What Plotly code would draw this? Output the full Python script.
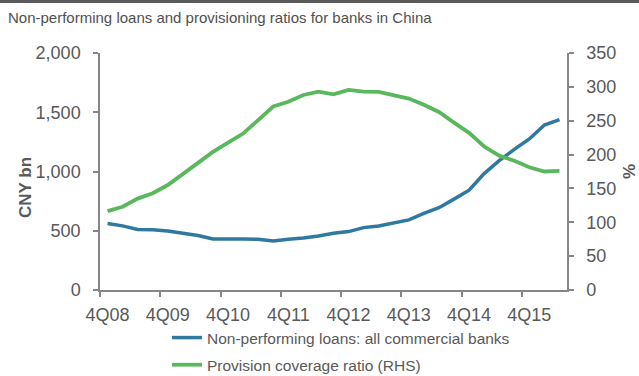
import plotly.graph_objects as go

quarters = ["4Q08",
            "1Q09", "2Q09", "3Q09", "4Q09",
            "1Q10", "2Q10", "3Q10", "4Q10",
            "1Q11", "2Q11", "3Q11", "4Q11",
            "1Q12", "2Q12", "3Q12", "4Q12",
            "1Q13", "2Q13", "3Q13", "4Q13",
            "1Q14", "2Q14", "3Q14", "4Q14",
            "1Q15", "2Q15", "3Q15", "4Q15",
            "1Q16", "2Q16"]

npl_cny_bn = [560.3,
              541, 510, 508, 497.3,
              480, 460, 430, 433.6,
              430, 428, 414, 427.9,
              438.2, 456.4, 478.8, 492.9,
              526.5, 539.5, 563.6, 592.1,
              646.1, 694.4, 766.9, 842.6,
              982.5, 1091.9, 1186.3, 1274.4,
              1392.1, 1437.3]

provision_pct = [116.4,
                 123, 135, 143, 155,
                 171, 188, 204, 217.7,
                 231, 251, 271, 278.1,
                 288, 293, 289, 295.5,
                 293, 292.5, 287, 282.7,
                 273.7, 262.9, 247.2, 232.1,
                 211.9, 198.4, 190.8, 181.2,
                 175.0, 176.0]

BLUE = "#2F78A0"
GREEN = "#5AB85C"
TXT = "#595959"
AX = "#868686"
FONT = "Liberation Sans, Arial, sans-serif"

fig = go.Figure()
fig.add_trace(go.Scatter(x=quarters, y=npl_cny_bn, mode="lines",
                         name="Non-performing loans: all commercial banks",
                         line=dict(color=BLUE, width=3.5), yaxis="y",
                         legendgroup="a"))
fig.add_trace(go.Scatter(x=quarters, y=provision_pct, mode="lines",
                         name="Provision coverage ratio (RHS)",
                         line=dict(color=GREEN, width=3.8), yaxis="y2",
                         legendgroup="b"))

W, H = 639, 376
L, R, T, B = 100, 72, 53, 86
pw, ph = W - L - R, H - T - B

fig.update_layout(
    width=W, height=H,
    margin=dict(l=L, r=R, t=T, b=B, autoexpand=False),
    paper_bgcolor="white", plot_bgcolor="white",
    font=dict(family=FONT, color=TXT),
    title=dict(text="Non-performing loans and provisioning ratios for banks in China",
               x=8 / W, xref="container", xanchor="left",
               y=1 - 18 / H, yref="container", yanchor="middle",
               font=dict(size=15, color="#505050", family=FONT)),
    xaxis=dict(type="category", range=[-0.5, len(quarters) - 0.5],
               tickmode="linear", tick0=0, dtick=4, tickson="boundaries",
               tickangle=0,
               ticks="outside", ticklen=5, tickcolor=AX, tickwidth=1.5,
               showline=True, linecolor=AX, linewidth=1.5,
               showgrid=False, zeroline=False,
               tickfont=dict(size=18, color=TXT),
               ticklabelstandoff=8),
    yaxis=dict(range=[0, 2000], dtick=500, tickformat=",",
               ticks="outside", ticklen=5, tickcolor=AX, tickwidth=1.5,
               showline=True, linecolor=AX, linewidth=1.5,
               showgrid=False, zeroline=False,
               tickfont=dict(size=18, color=TXT),
               ticklabelstandoff=9),
    yaxis2=dict(range=[0, 350], dtick=50, overlaying="y", side="right",
                anchor="x",
                ticks="outside", ticklen=5, tickcolor=AX, tickwidth=1.5,
                showline=True, linecolor=AX, linewidth=1.5,
                showgrid=False, zeroline=False,
                tickfont=dict(size=18, color=TXT),
                ticklabelstandoff=9,
                title=dict(text="<b>%</b>", standoff=10,
                           font=dict(size=17, color=TXT))),
    legend=dict(x=(167 - L) / pw, xanchor="left",
                y=(H - B - 321) / ph, yanchor="top",
                orientation="v", tracegroupgap=4,
                font=dict(size=15.5, color=TXT),
                bgcolor="rgba(0,0,0,0)"),
    showlegend=True,
)

# left axis title, placed slightly below the plot centre as in the reference
fig.add_annotation(text="<b>CNY bn</b>", xref="paper", yref="paper",
                   x=(26 - L) / pw, y=(H - B - 188) / ph,
                   xanchor="center", yanchor="middle", textangle=-90,
                   showarrow=False, font=dict(size=17, color=TXT))

# thin dark rule across the top of the figure
fig.add_shape(type="rect", xref="paper", yref="paper",
              x0=-L / pw, x1=1 + R / pw,
              y0=1 + (T - 3) / ph, y1=1 + T / ph,
              fillcolor="#5a5a5a", line=dict(width=0), layer="above")

fig.write_html("out.html")
